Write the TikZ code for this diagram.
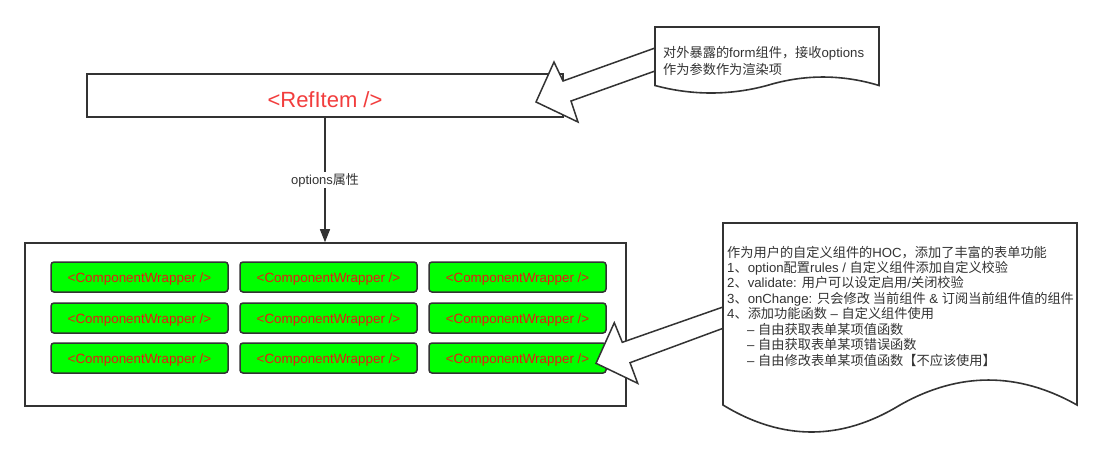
\documentclass[tikz,border=0pt]{standalone}
\usepackage{fontspec}
\setmainfont{Liberation Sans}
\newfontfamily\cjk{Noto Sans CJK SC}
\usetikzlibrary{arrows.meta}
\newcommand\zh[1]{{\cjk #1}}
\definecolor{dark}{HTML}{333333}
\definecolor{cgreen}{HTML}{00FF00}
\definecolor{cred}{HTML}{E81A14}
\definecolor{bigred}{HTML}{F23D3D}
\tikzset{
  plainbox/.style={draw=dark, line width=1.6pt, fill=white, inner sep=0pt},
  greenbox/.style={draw=dark, line width=1.5pt, fill=cgreen, rounded corners=3pt,
    minimum width=177pt, minimum height=30pt, inner sep=0pt, text=cred,
    text height=11.6pt, text depth=0pt,
    font=\fontsize{13.4}{15}\selectfont},
  hollow/.style={draw=dark, fill=white, line width=1.5pt, line join=miter},
  docshape/.style={draw=dark, fill=white, line width=1.6pt, line join=miter},
  calltext/.style={inner sep=0pt, align=left, text=dark, anchor=west},
  conn/.style={draw=dark, line width=1.4pt, -{Triangle[length=13pt,width=10pt]}},
}
\begin{document}
\begin{tikzpicture}[x=1pt,y=-1pt]
\useasboundingbox[fill=white] (0,0) rectangle (1102,456);

% container with component wrappers
\node[plainbox, minimum width=601pt, minimum height=163pt] (container) at (325.5,324.5) {};
\node[greenbox] (c11) at (139.5,277) {<ComponentWrapper />};
\node[greenbox] (c12) at (328.5,277) {<ComponentWrapper />};
\node[greenbox] (c13) at (517.5,277) {<ComponentWrapper />};
\node[greenbox] (c21) at (139.5,318) {<ComponentWrapper />};
\node[greenbox] (c22) at (328.5,318) {<ComponentWrapper />};
\node[greenbox] (c23) at (517.5,318) {<ComponentWrapper />};
\node[greenbox] (c31) at (139.5,358) {<ComponentWrapper />};
\node[greenbox] (c32) at (328.5,358) {<ComponentWrapper />};
\node[greenbox] (c33) at (517.5,358) {<ComponentWrapper />};

% RefItem
\node[plainbox, minimum width=476pt, minimum height=43pt, text=bigred,
  font=\fontsize{22}{26}\selectfont, text height=25pt, text depth=0.6pt] (refitem) at (325,95.5) {<RefItem />};

% options arrow
\draw[conn] (refitem.south) -- (refitem.south |- container.north)
  node[midway, fill=white, text=dark, inner sep=1.5pt, font=\fontsize{13}{15}\selectfont] (optlabel) {options\zh{属性}};

% hollow callout arrows
\draw[hollow] (655,48) -- (563,81) -- (554,62) -- (536,102) -- (578,122) -- (571,101) -- (655,71) -- cycle;
\draw[hollow] (723,307) -- (622.3,342.3) -- (614.3,322.7) -- (596,363.3) -- (637.7,383.3) -- (630,362.7) -- (723,328.3) -- cycle;

% document shapes
\draw[docshape] (655,85.5) -- (655,27) -- (879,27) -- (879,85.5)
  .. controls (842,74.2) and (804,74.2) .. (767,85.5)
  .. controls (730,95.5) and (692,95.5) .. (655,85.5) -- cycle;
\draw[docshape] (723,405) -- (723,223) -- (1077,223) -- (1077,405)
  .. controls (1018,371.7) and (959,371.7) .. (900,405)
  .. controls (841,441) and (782,441) .. (723,405) -- cycle;

\node[calltext, font=\fontsize{13.2}{17}\selectfont] (note1) at (663,60.5)
  {\zh{对外暴露的}form\zh{组件，接收}options\\\zh{作为参数作为渲染项}};

\node[calltext, font=\fontsize{13.2}{15.43}\selectfont] (note2) at (727,306)
  {\zh{作为用户的自定义组件的}HOC\zh{，添加了丰富的表单功能}\\
   1\zh{、}option\zh{配置}rules / \zh{自定义组件添加自定义校验}\\
   2\zh{、}validate: \zh{用户可以设定启用}/\zh{关闭校验}\\
   3\zh{、}onChange: \zh{只会修改 当前组件} \& \zh{订阅当前组件值的组件}\\
   4\zh{、添加功能函数} – \zh{自定义组件使用}\\
   \hspace*{20pt}– \zh{自由获取表单某项值函数}\\
   \hspace*{20pt}– \zh{自由获取表单某项错误函数}\\
   \hspace*{20pt}– \zh{自由修改表单某项值函数【不应该使用】}};
\end{tikzpicture}
\end{document}
